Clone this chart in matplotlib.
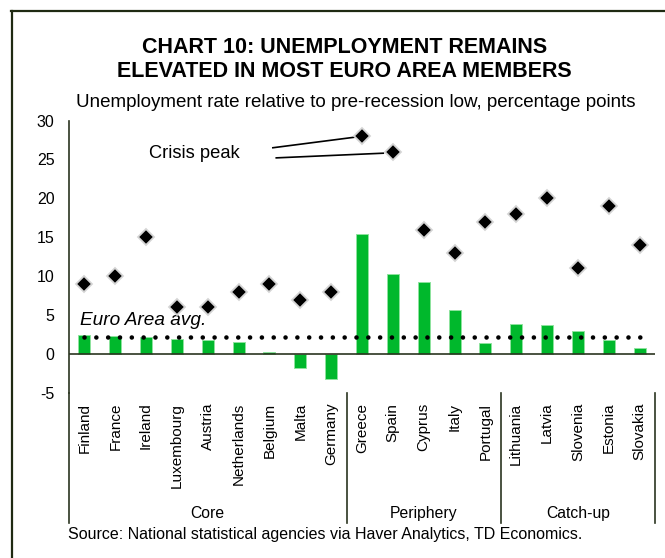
import matplotlib
matplotlib.use('Agg')
import matplotlib.pyplot as plt
from matplotlib.lines import Line2D
from matplotlib.transforms import blended_transform_factory

plt.rcParams['font.family'] = ['Liberation Sans', 'DejaVu Sans']
plt.rcParams['axes.unicode_minus'] = False

countries = ['Finland', 'France', 'Ireland', 'Luxembourg', 'Austria', 'Netherlands',
             'Belgium', 'Malta', 'Germany',
             'Greece', 'Spain', 'Cyprus', 'Italy', 'Portugal',
             'Lithuania', 'Latvia', 'Slovenia', 'Estonia', 'Slovakia']
current = [2.5, 2.3, 2.2, 2.0, 1.85, 1.6, 0.3, -1.8, -3.2,
           15.4, 10.3, 9.2, 5.7, 1.4,
           3.9, 3.7, 2.9, 1.8, 0.8]
peak = [9, 10, 15, 6, 6, 8, 9, 7, 8,
        28, 26, 16, 13, 17,
        18, 20, 11, 19, 14]
euro_avg = 2.2
groups = ['Core', 'Periphery', 'Catch-up']
group_sizes = [9, 5, 5]

W, H = 665, 558
dark = '#2b3520'

fig = plt.figure(figsize=(W / 100, H / 100), dpi=100)

# frame (top + left edges only, rest is cropped off)
fig.add_artist(Line2D([11 / W, 1], [1 - 10.7 / H] * 2, color='#1f2a12', lw=1.6))
fig.add_artist(Line2D([12 / W] * 2, [1 - 10.7 / H, 0], color='#1f2a12', lw=1.6))

ax = fig.add_axes([69 / W, 1 - 393 / H, (655 - 69) / W, (393 - 120.5) / H])
x = list(range(len(countries)))

ax.bar(x, current, width=0.39, color='#00b82c', edgecolor='#8ee39e', linewidth=0.7, zorder=2)
ax.plot(x, peak, linestyle='none', marker='D', markersize=7.8, markerfacecolor='black',
        markeredgecolor='#d4d4d4', markeredgewidth=1.3, zorder=4)
ax.plot([x[0], x[-1]], [euro_avg, euro_avg], color='black', linewidth=3.3,
        linestyle=(0, (0.01, 2.57)), dash_capstyle='round', zorder=3)
ax.axhline(0, color=dark, linewidth=1.2, zorder=3)

ax.set_xlim(-0.5, len(countries) - 0.5)
ax.set_ylim(-5, 30)
ax.set_yticks(range(-5, 31, 5))
ax.set_xticks(x)
ax.set_xticklabels(countries, rotation=90, fontsize=11)
ax.tick_params(axis='x', length=0, pad=7)
ax.tick_params(axis='y', length=0, pad=10.5, labelsize=11.5)
for s in ['top', 'right', 'bottom']:
    ax.spines[s].set_visible(False)
ax.spines['left'].set_color(dark)
ax.spines['left'].set_linewidth(1.2)

ax.text(-0.13, 4.37, 'Euro Area avg.', fontsize=13.7, style='italic', va='center', ha='left')
ax.text(2.09, 25.8, 'Crisis peak', fontsize=13.2, va='center', ha='left')
ax.plot([6.11, 8.85], [26.5, 27.9], color='black', linewidth=1.2)
ax.plot([6.22, 9.69], [25.2, 25.8], color='black', linewidth=1.2)

# category group separators and labels
trans = blended_transform_factory(ax.transData, ax.transAxes)
edges = [-0.5]
for n in group_sizes:
    edges.append(edges[-1] + n)
for e in edges:
    ax.plot([e, e], [0, -0.476], color=dark, linewidth=1.2, transform=trans, clip_on=False)
for i, g in enumerate(groups):
    mid = (edges[i] + edges[i + 1]) / 2
    ax.text(mid, (393 - 518) / 272.5, g, fontsize=11.3, ha='center', va='baseline',
            transform=trans)

fig.text(344.5 / W, 1 - 53 / H, 'CHART 10: UNEMPLOYMENT REMAINS', fontsize=15.5,
         fontweight='bold', ha='center', va='baseline')
fig.text(344.5 / W, 1 - 77 / H, 'ELEVATED IN MOST EURO AREA MEMBERS', fontsize=15.5,
         fontweight='bold', ha='center', va='baseline')
fig.text(355.5 / W, 1 - 106.5 / H,
         'Unemployment rate relative to pre-recession low, percentage points',
         fontsize=13.5, ha='center', va='baseline')
fig.text(68 / W, 1 - 539.3 / H,
         'Source: National statistical agencies via Haver Analytics, TD Economics.',
         fontsize=11.5, ha='left', va='baseline')

fig.savefig('out.png', dpi=100)
